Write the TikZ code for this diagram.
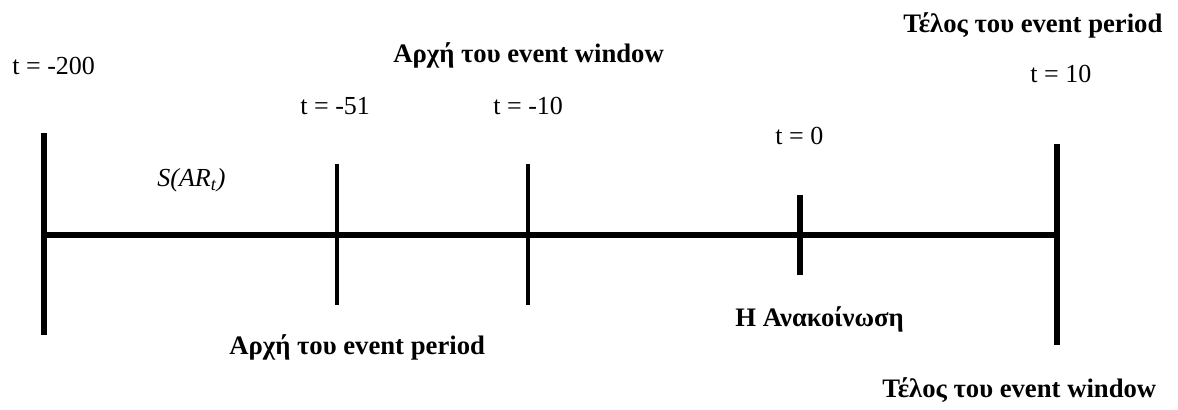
\documentclass[tikz,border=0pt]{standalone}
\usepackage{fontspec}
\setmainfont{Liberation Serif}
\begin{document}
\begin{tikzpicture}[x=0.5pt,y=-0.5pt,
  lbl/.style={inner sep=0pt,anchor=base west,font=\fontsize{13}{15}\selectfont},
  blbl/.style={lbl,font=\fontsize{13.35}{15}\selectfont\bfseries},
  axis/.style={line width=3.4pt},
  thick tick/.style={line width=3.4pt},
  thin tick/.style={line width=2pt}]
\useasboundingbox (0,0) rectangle (1178,410);
% tick end points
\coordinate (aT) at (44,133);  \coordinate (aB) at (44,335);
\coordinate (bT) at (337,164); \coordinate (bB) at (337,305);
\coordinate (cT) at (528,164); \coordinate (cB) at (528,305);
\coordinate (dT) at (800,195); \coordinate (dB) at (800,275);
\coordinate (eT) at (1057,144); \coordinate (eB) at (1057,345);
\coordinate (a) at (44,235);
\coordinate (e) at (1057,235);
% axis and ticks
\draw[axis] (a) -- (e);
\draw[thick tick] (aT) -- (aB);
\draw[thin tick] (bT) -- (bB);
\draw[thin tick] (cT) -- (cB);
\draw[thick tick] (dT) -- (dB);
\draw[thick tick] (eT) -- (eB);
% labels
\node[lbl] (l1) at (12,75) {t = -200};
\node[lbl] (l2) at (157,187) {\itshape S(AR\textsubscript{t})};
\node[lbl] (l3) at (300,115) {t = -51};
\node[lbl] (l4) at (493,115) {t = -10};
\node[lbl] (l5) at (775,145) {t = 0};
\node[lbl] (l6) at (1030,83) {t = 10};
\node[blbl] (l7) at (393,63) {Αρχή του event window};
\node[blbl] (l8) at (903,33) {Τέλος του event period};
\node[blbl] (l9) at (229,355) {Αρχή του event period};
\node[blbl] (l10) at (735,327) {Η Ανακοίνωση};
\node[blbl] (l11) at (882,398) {Τέλος του event window};
\end{tikzpicture}
\end{document}
